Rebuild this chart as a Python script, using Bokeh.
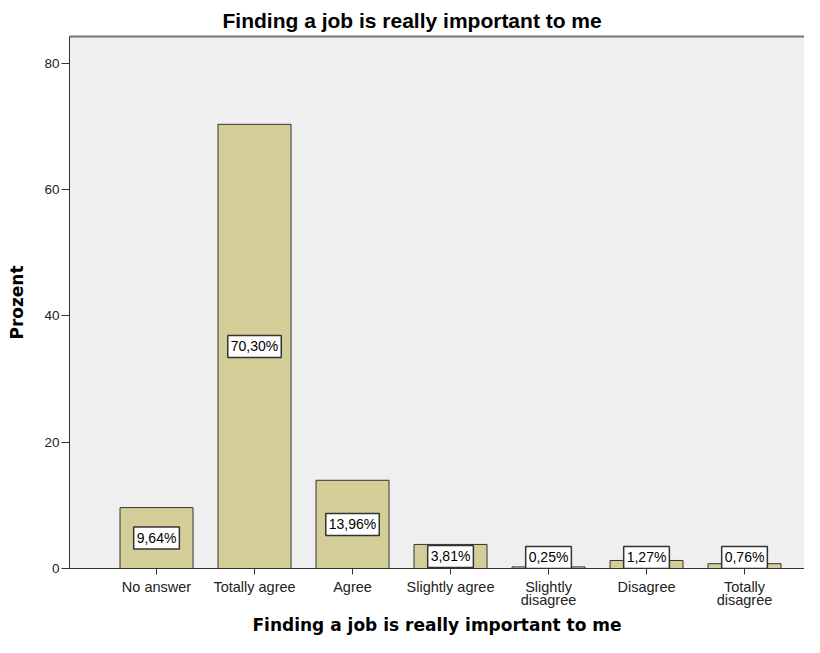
from bokeh.plotting import figure
from bokeh.models import ColumnDataSource, FixedTicker, LinearAxis, Range1d
from bokeh.core.properties import value
from bokeh.embed import file_html
from bokeh.resources import INLINE

categories = ["No answer", "Totally agree", "Agree", "Slightly agree",
              "Slightly\ndisagree", "Disagree", "Totally\ndisagree"]
percent = [9.64, 70.30, 13.96, 3.81, 0.25, 1.27, 0.76]
y_ticks = [0, 20, 40, 60, 80]

idx = list(range(len(categories)))
labels = [f"{v:.2f}".replace(".", ",") + "%" for v in percent]
# label sits at half the bar height, kept just high enough to stay readable
label_y = [max(v / 2, 1.75) for v in percent]
src = ColumnDataSource(dict(x=idx, top=percent, mid=label_y, lab=labels))

p = figure(width=804, height=637, output_backend="svg", toolbar_location=None,
           x_range=Range1d(-0.888, 6.612), y_range=Range1d(0, 84.2),
           min_border_left=69, min_border_right=0, min_border_top=36, min_border_bottom=60)
p.background_fill_color = "#EFEFEF"
p.border_fill_color = "white"
p.outline_line_color = None
p.grid.visible = False

p.title.text = "Finding a job is really important to me"
p.title.align = "left"
p.title.offset = 153
p.title.text_font = "Liberation Sans"
p.title.text_font_size = "21px"
p.title.text_font_style = "bold"
p.title.text_color = "black"

p.vbar(x="x", top="top", width=0.745, source=src, fill_color="#D3CE97",
       line_color="#333333", line_width=1)

p.text(x="x", y="mid", text="lab", source=src, text_align="center", text_baseline="middle",
       text_font=value("Liberation Sans"), text_font_size="14px", text_color="black",
       background_fill_color="white", border_line_color="#333333", border_line_width=1.5,
       padding=3)

xa = p.xaxis[0]
xa.ticker = FixedTicker(ticks=idx)
xa.major_label_overrides = {i: c for i, c in zip(idx, categories)}
xa.minor_tick_line_color = None
xa.major_tick_out = 6
xa.major_tick_in = 0
xa.major_label_text_font = "Liberation Sans"
xa.major_label_text_font_size = "14.5px"
xa.major_label_text_color = "#222222"
xa.major_label_text_line_height = 0.82
xa.axis_line_color = "#333333"
xa.major_tick_line_color = "#333333"
xa.axis_label = "Finding a job is really important to me"
xa.axis_label_text_font = "DejaVu Sans"
xa.axis_label_text_font_size = "17px"
xa.axis_label_text_font_style = "bold"
xa.axis_label_text_color = "black"
xa.axis_label_standoff = 4
xa.major_label_standoff = 4

ya = p.yaxis[0]
ya.ticker = FixedTicker(ticks=y_ticks)
ya.minor_tick_line_color = None
ya.major_tick_out = 8
ya.major_tick_in = 0
ya.major_label_text_font = "Liberation Sans"
ya.major_label_text_font_size = "13.5px"
ya.major_label_text_color = "#222222"
ya.axis_line_color = "#333333"
ya.major_tick_line_color = "#333333"
ya.axis_label = "Prozent"
ya.axis_label_text_font = "DejaVu Sans"
ya.axis_label_text_font_size = "17px"
ya.axis_label_text_font_style = "bold"
ya.axis_label_text_color = "black"
ya.axis_label_standoff = 14
ya.major_label_standoff = 2

top_axis = LinearAxis(ticker=FixedTicker(ticks=[]), major_label_text_font_size="0px",
                      axis_line_color="#777777", axis_line_width=2,
                      major_tick_line_color=None, minor_tick_line_color=None)
p.add_layout(top_axis, "above")

open("out.html", "w").write(file_html(p, INLINE))
